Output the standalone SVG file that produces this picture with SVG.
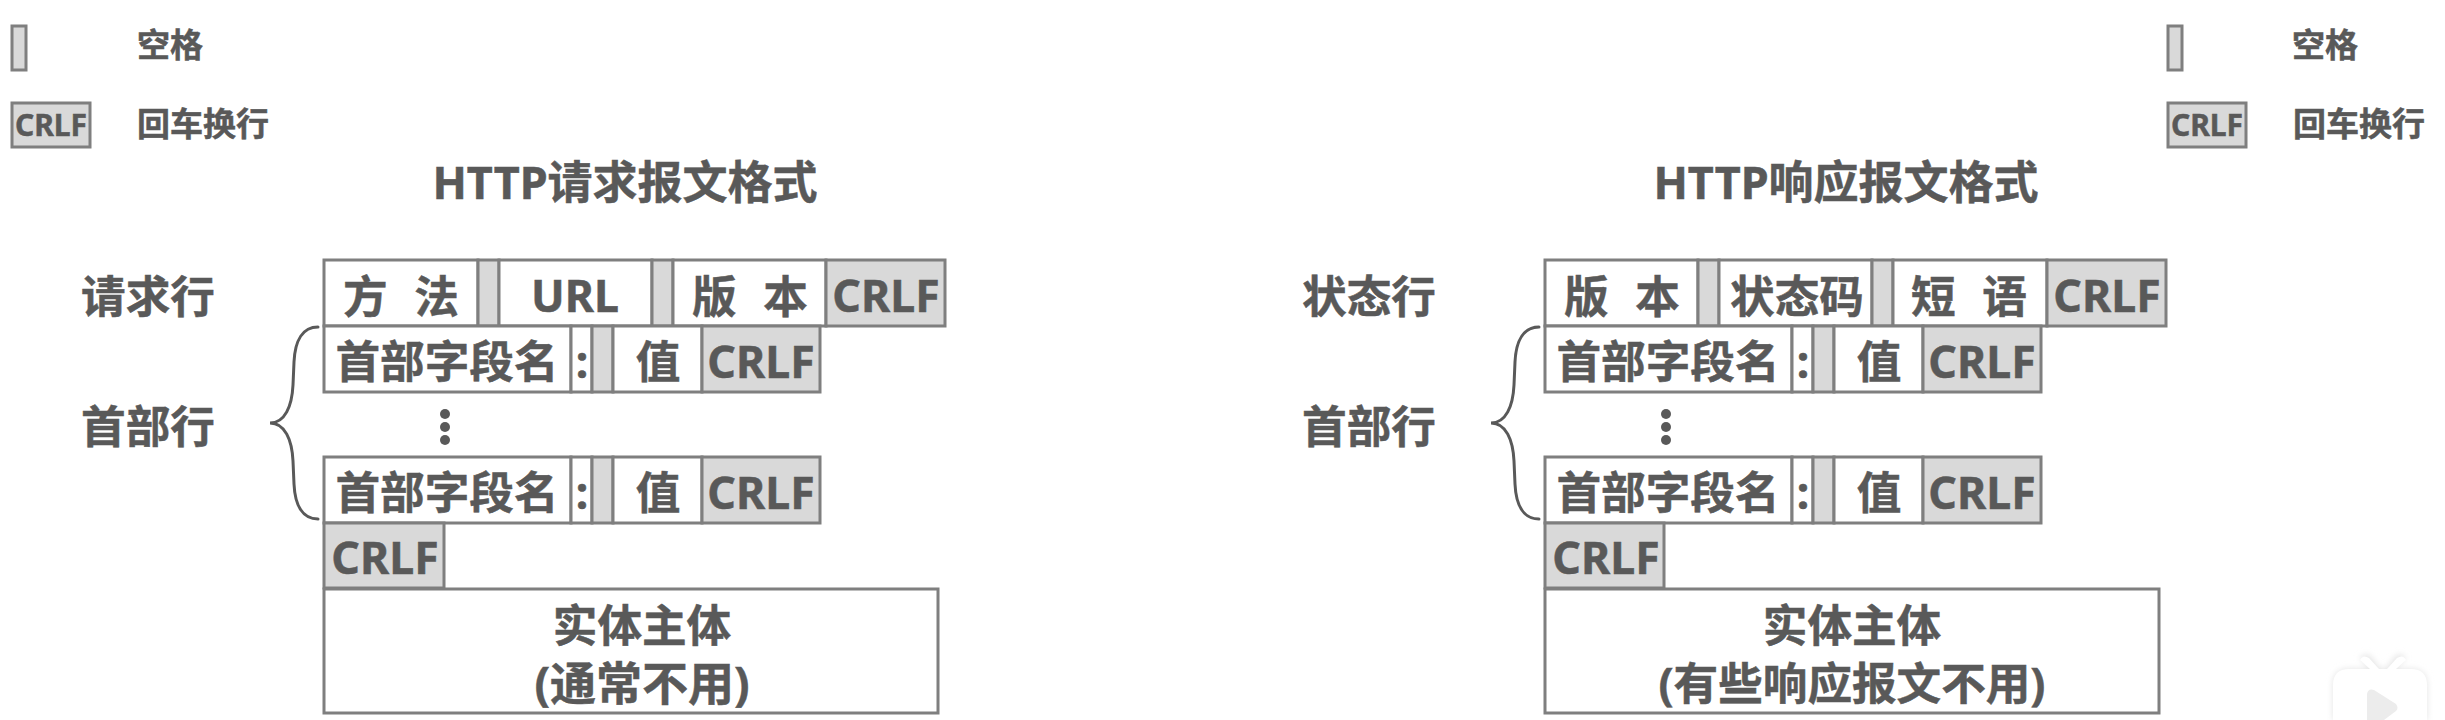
<svg xmlns="http://www.w3.org/2000/svg" width="2445" height="720" viewBox="0 0 2445 720">
<style>
text{font-family:"Noto Sans","Noto Sans CJK SC",sans-serif;font-weight:700;fill:#595959;stroke:#595959;stroke-width:.5;text-anchor:middle;dominant-baseline:central;font-size:44.6px;transform:translateY(-1px)}
.sm{font-size:33px}
.cr{font-size:30px}
.t{font-size:45px}
.wide{word-spacing:15px}
.w{fill:#fff;stroke:#7f7f7f;stroke-width:3}
.g{fill:#d9d9d9;stroke:#7f7f7f;stroke-width:3}
.br{fill:none;stroke:#595959;stroke-width:3;stroke-linecap:round}
.d{fill:#595959}
</style>
<defs>
<filter id="soft" x="-30%" y="-30%" width="160%" height="160%"><feGaussianBlur stdDeviation="3"/></filter>
<g id="hdr">
<rect class="w" x="0" y="0" width="247" height="66"/>
<rect class="w" x="247" y="0" width="21" height="66"/>
<rect class="g" x="268" y="0" width="21" height="66"/>
<rect class="w" x="289" y="0" width="89" height="66"/>
<rect class="g" x="378" y="0" width="118" height="66"/>
<text x="123" y="35">首部字段名</text>
<text x="258" y="35">:</text>
<text x="334" y="35">值</text>
<text x="437" y="35">CRLF</text>
</g>
<path id="brace" class="br" d="M318 327C303 327 295 340 294 362L293 385C292 406 285 423 270 423C285 423 292 440 293 461L294 484C295 506 303 519 318 519"/>
</defs>
<rect width="2445" height="720" fill="#fff"/>
<g id="watermark">
<path d="M2333 720V685Q2333 669 2349 669H2370L2360 658Q2365 652 2370 656L2380 669H2386L2396 656Q2401 652 2406 658L2394 669H2411Q2427 669 2427 685V720Z" fill="#e4e4e4" filter="url(#soft)"/>
<path d="M2333 720V685Q2333 669 2349 669H2370L2360 660Q2363 654 2369 658L2379 669H2387L2397 658Q2403 654 2406 660L2396 669H2411Q2427 669 2427 685V720Z" fill="#fff"/>
<path d="M2367 720V694Q2368 688 2374 690L2396 704Q2399 708 2396 711L2384 720Z" fill="#ececec"/>
</g>
<g id="connectors">
<use href="#brace"/>
<use href="#brace" x="1221"/>
</g>
<g id="legend-left">
<rect class="g" x="12" y="26" width="14" height="44"/>
<text class="sm" x="170" y="45">空格</text>
<rect class="g" x="12" y="103" width="78" height="44"/>
<text class="cr" x="51" y="125">CRLF</text>
<text class="sm" x="203" y="124">回车换行</text>
</g>
<g id="legend-right">
<rect class="g" x="2168" y="26" width="14" height="44"/>
<text class="sm" x="2325" y="45">空格</text>
<rect class="g" x="2168" y="103" width="78" height="44"/>
<text class="cr" x="2207" y="125">CRLF</text>
<text class="sm" x="2359" y="124">回车换行</text>
</g>
<g id="request">
<text class="t" x="625" y="182">HTTP请求报文格式</text>
<text x="148" y="296">请求行</text>
<text x="148" y="426">首部行</text>
<g id="req-line">
<rect class="w" x="324" y="260" width="154" height="66"/>
<rect class="g" x="478" y="260" width="21" height="66"/>
<rect class="w" x="499" y="260" width="153" height="66"/>
<rect class="g" x="652" y="260" width="21" height="66"/>
<rect class="w" x="673" y="260" width="153" height="66"/>
<rect class="g" x="826" y="260" width="119" height="66"/>
<text class="wide" x="401" y="296">方 法</text>
<text x="575" y="295">URL</text>
<text class="wide" x="750" y="296">版 本</text>
<text x="886" y="295">CRLF</text>
</g>
<use id="req-hdr1" href="#hdr" x="324" y="326"/>
<g id="req-dots"><circle class="d" cx="445" cy="414" r="5"/><circle class="d" cx="445" cy="427" r="5"/><circle class="d" cx="445" cy="440" r="5"/></g>
<use id="req-hdr2" href="#hdr" x="324" y="457"/>
<g id="req-crlf"><rect class="g" x="324" y="523" width="120" height="65"/><text x="385" y="557">CRLF</text></g>
<g id="req-body"><rect class="w" x="324" y="589" width="614" height="124"/><text x="642" y="625">实体主体</text><text style="font-size:46px" x="642" y="683">(通常不用)</text></g>
</g>
<g id="response">
<text class="t" x="1846" y="182">HTTP响应报文格式</text>
<text x="1369" y="296">状态行</text>
<text x="1369" y="426">首部行</text>
<g id="status-line">
<rect class="w" x="1545" y="260" width="153" height="66"/>
<rect class="g" x="1698" y="260" width="21" height="66"/>
<rect class="w" x="1719" y="260" width="153" height="66"/>
<rect class="g" x="1872" y="260" width="21" height="66"/>
<rect class="w" x="1893" y="260" width="154" height="66"/>
<rect class="g" x="2047" y="260" width="119" height="66"/>
<text class="wide" x="1622" y="296">版 本</text>
<text x="1797" y="296">状态码</text>
<text class="wide" x="1969" y="296">短 语</text>
<text x="2107" y="295">CRLF</text>
</g>
<use id="res-hdr1" href="#hdr" x="1545" y="326"/>
<g id="res-dots"><circle class="d" cx="1666" cy="414" r="5"/><circle class="d" cx="1666" cy="427" r="5"/><circle class="d" cx="1666" cy="440" r="5"/></g>
<use id="res-hdr2" href="#hdr" x="1545" y="457"/>
<g id="res-crlf"><rect class="g" x="1545" y="523" width="119" height="65"/><text x="1606" y="557">CRLF</text></g>
<g id="res-body"><rect class="w" x="1545" y="589" width="614" height="124"/><text x="1852" y="625">实体主体</text><text x="1852" y="683">(有些响应报文不用)</text></g>
</g>
</svg>
